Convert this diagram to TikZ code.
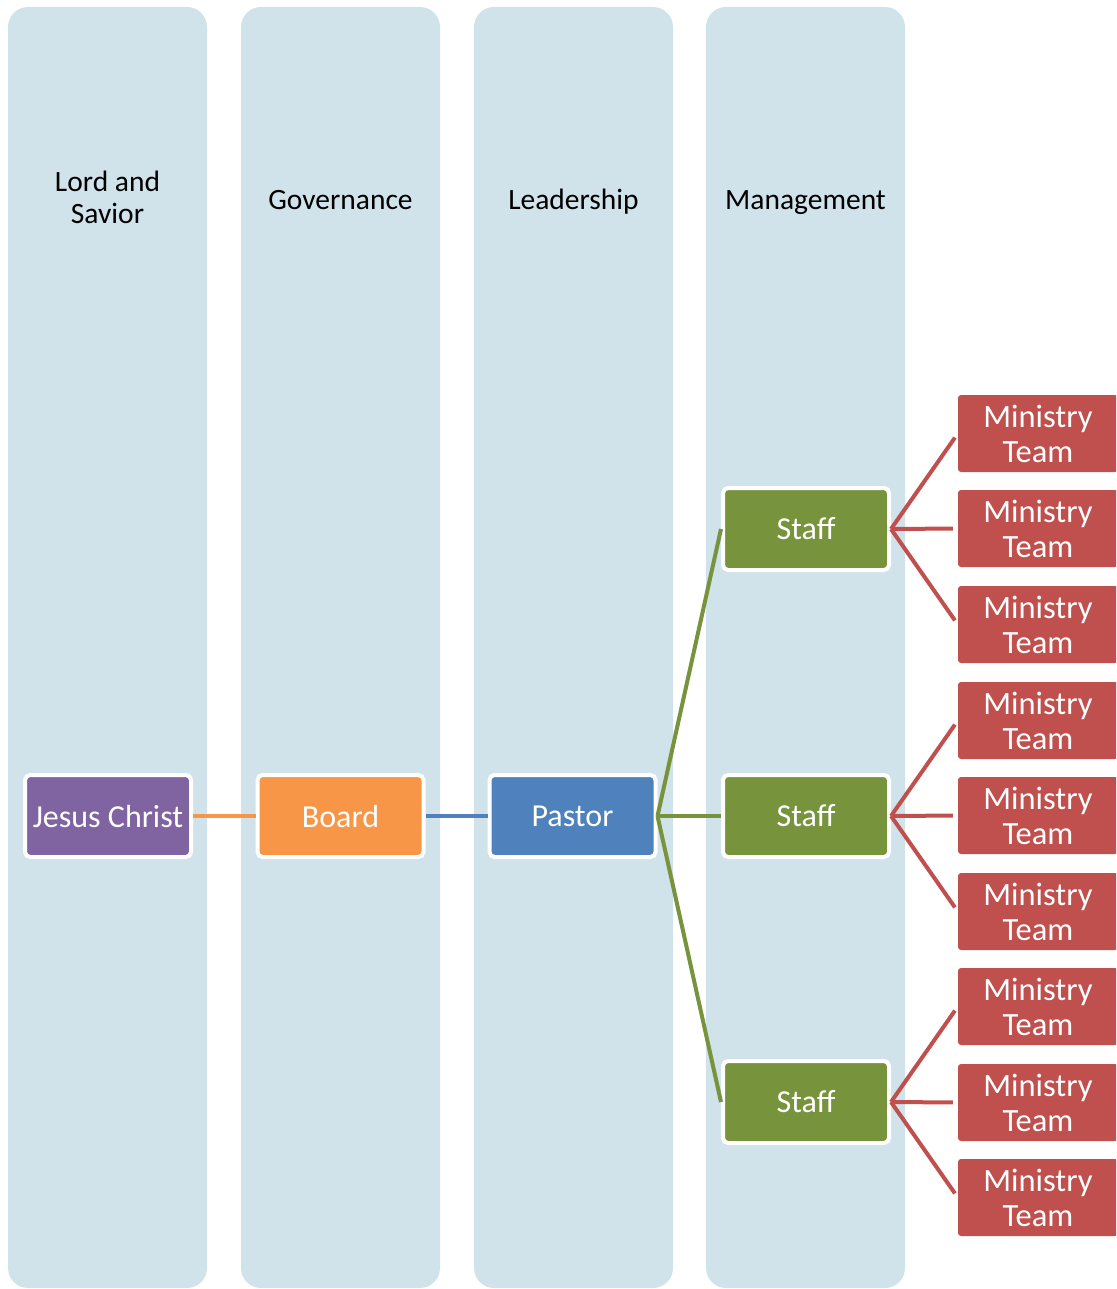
\documentclass[tikz,border=0pt]{standalone}
\usepackage{fontspec}
\setmainfont{Carlito}
\definecolor{colbg}{HTML}{D0E3EA}
\definecolor{cpurple}{HTML}{8064A2}
\definecolor{corange}{HTML}{F79646}
\definecolor{cblue}{HTML}{4F81BD}
\definecolor{cgreen}{HTML}{77933C}
\definecolor{cred}{HTML}{C0504D}
\begin{document}
\begin{tikzpicture}[x=1pt,y=-1pt,
  lane/.style={fill=colbg,draw=none,rounded corners=20pt},
  lanehead/.style={font=\fontsize{29.5}{32}\selectfont,align=center,text=black,text depth=0pt},
  mainbox/.style={draw=white,line width=4pt,rounded corners=5pt,minimum width=166pt,minimum height=82pt,inner sep=0pt,text=white,font=\fontsize{32}{35}\selectfont},
  teambox/.style={fill=cred,draw=none,rounded corners=3pt,minimum width=160pt,minimum height=77pt,inner sep=0pt,text=white,align=center,font=\fontsize{32.5}{35}\selectfont},
  link/.style={line width=4.5pt},
  teamlink/.style={draw=cred,line width=4pt,line join=round,shorten >=5pt}]
\useasboundingbox (0,0) rectangle (1116,1289);
\begin{scope}
\clip (0,0) rectangle (1116,1289);
% lanes
\fill[lane] (8,7) rectangle (207,1288);
\fill[lane] (241,7) rectangle (440,1288);
\fill[lane] (474,7) rectangle (673,1288);
\fill[lane] (706,7) rectangle (905,1288);
\node[lanehead,anchor=base] (h1) at (107.5,224) {Lord and\\Savior};
\node[lanehead,anchor=base] (h2) at (340.5,209.5) {Governance};
\node[lanehead,anchor=base] (h3) at (573.5,209.5) {Leadership};
\node[lanehead,anchor=base] (h4) at (805.5,209.5) {Management};
% main nodes
\node[mainbox,fill=cpurple] (jc) at (108,816) {Jesus Christ};
\node[mainbox,fill=corange] (board) at (340.5,816) {Board};
\node[mainbox,fill=cblue] (pastor) at (572.5,816) {Pastor};
\node[mainbox,fill=cgreen] (s1) at (806,529) {Staff};
\node[mainbox,fill=cgreen] (s2) at (806,816) {Staff};
\node[mainbox,fill=cgreen] (s3) at (806,1102) {Staff};
% teams
\node[teambox] (m1) at (1038,433.5) {Ministry\\Team};
\node[teambox] (m2) at (1038,528.5) {Ministry\\Team};
\node[teambox] (m3) at (1038,624.5) {Ministry\\Team};
\node[teambox] (m4) at (1038,720.5) {Ministry\\Team};
\node[teambox] (m5) at (1038,815.5) {Ministry\\Team};
\node[teambox] (m6) at (1038,911.5) {Ministry\\Team};
\node[teambox] (m7) at (1038,1006.5) {Ministry\\Team};
\node[teambox] (m8) at (1038,1102.5) {Ministry\\Team};
\node[teambox] (m9) at (1038,1197.5) {Ministry\\Team};
% connectors
\draw[link,draw=corange] (jc.east) -- (board.west);
\draw[link,draw=cblue] (board.east) -- (pastor.west);
\draw[link,draw=cgreen,line width=4pt] (pastor.east) -- (s1.west);
\draw[link,draw=cgreen] (pastor.east) -- (s2.west);
\draw[link,draw=cgreen,line width=4pt] (pastor.east) -- (s3.west);
\draw[teamlink] (s1.east) -- (m1.west);
\draw[teamlink] (s1.east) -- (m2.west);
\draw[teamlink] (s1.east) -- (m3.west);
\draw[teamlink] (s2.east) -- (m4.west);
\draw[teamlink] (s2.east) -- (m5.west);
\draw[teamlink] (s2.east) -- (m6.west);
\draw[teamlink] (s3.east) -- (m7.west);
\draw[teamlink] (s3.east) -- (m8.west);
\draw[teamlink] (s3.east) -- (m9.west);
\end{scope}
\end{tikzpicture}
\end{document}
